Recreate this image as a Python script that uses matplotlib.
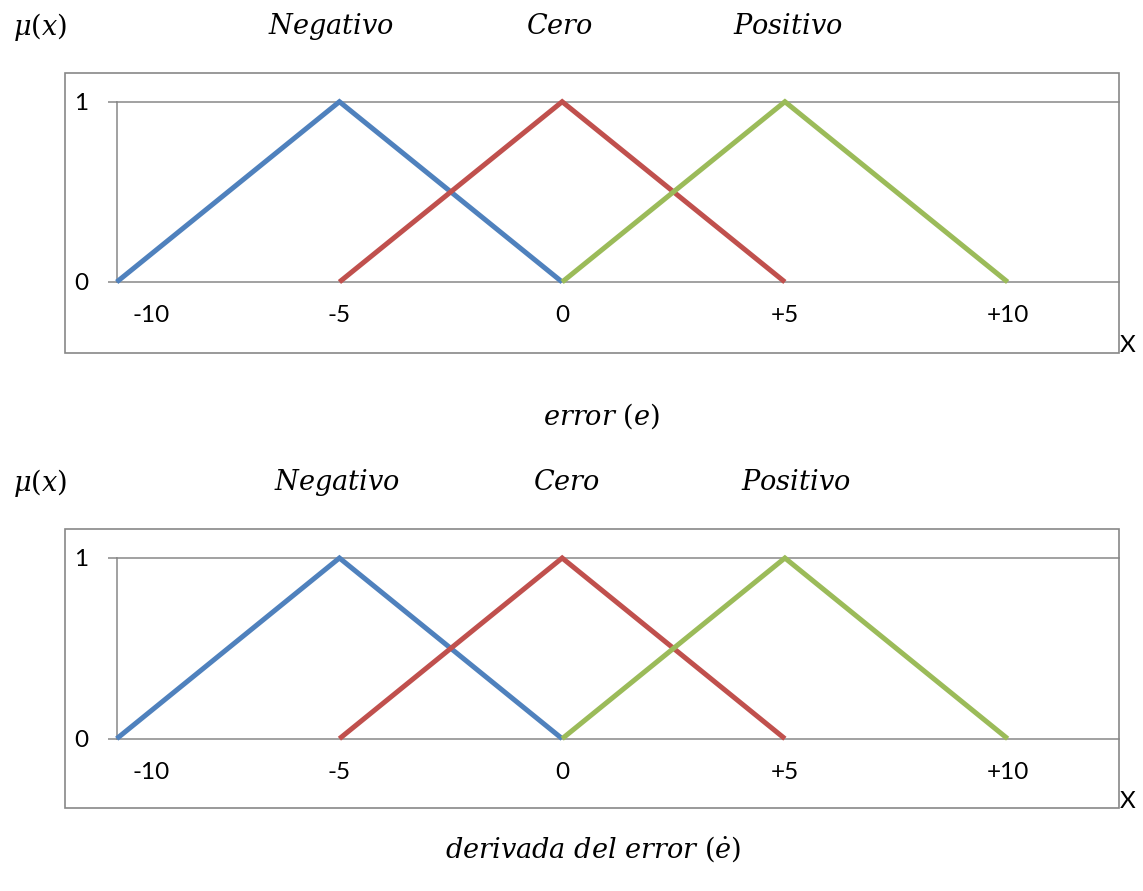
import matplotlib
matplotlib.use("Agg")
import matplotlib.pyplot as plt
from matplotlib.patches import Rectangle

plt.rcParams["mathtext.fontset"] = "dejavuserif"

# Membership functions (triangular) shared by both variables
x_negativo = [-10, -5, 0]
mu_negativo = [0, 1, 0]
x_cero = [-5, 0, 5]
mu_cero = [0, 1, 0]
x_positivo = [0, 5, 10]
mu_positivo = [0, 1, 0]

set_names = [r"$Negativo$", r"$Cero$", r"$Positivo$"]
xtick_values = [-10, -5, 0, 5, 10]
xtick_labels = ["-10", "-5", "0", "+5", "+10"]
ytick_values = [0, 1]
ytick_labels = ["0", "1"]
variable_names = [r"$error\ (e)$", r"$derivada\ del\ error\ (\dot{e})$"]

colors = ["#4F81BD", "#C0504D", "#9BBB59"]
gray = "#878787"

W, H = 1143, 891
fig = plt.figure(figsize=(W / 100, H / 100), dpi=100)


def fx(px):
    return px / W


def fy(py):
    return 1 - py / H


panels = [
    dict(frame=(65, 73, 1119, 353), plot=(116.7, 101.7, 1119, 282),
         header_y=27, names_x=[331, 559, 788], var_xy=(601, 416), xlab=(1128, 345)),
    dict(frame=(65, 529, 1119, 808), plot=(116.7, 558, 1119, 738.7),
         header_y=483, names_x=[337, 566, 796], var_xy=(593, 849), xlab=(1128, 801)),
]

series = [(x_negativo, mu_negativo), (x_cero, mu_cero), (x_positivo, mu_positivo)]
label_font = dict(fontsize=17.5, fontfamily="Lato")
math_size = 19.5

for i, p in enumerate(panels):
    # outer chart frame
    x0, y0, x1, y1 = p["frame"]
    fig.patches.append(Rectangle((fx(x0), fy(y1)), fx(x1) - fx(x0), fy(y0) - fy(y1),
                                 transform=fig.transFigure, fill=False,
                                 edgecolor=gray, linewidth=1.2, zorder=0))
    l, t, r, b = p["plot"]
    ax = fig.add_axes([fx(l), fy(b), fx(r) - fx(l), fy(t) - fy(b)])
    ax.set_facecolor("none")
    # horizontal gridlines at the category levels
    for yv in ytick_values:
        ax.axhline(yv, color=gray, linewidth=1.1, clip_on=False, zorder=1)
    for (xs, ys), c in zip(series, colors):
        ax.plot(xs, ys, color=c, linewidth=3.6, solid_capstyle="butt",
                solid_joinstyle="miter", clip_on=False, zorder=3)
    ax.set_xlim(-10, 12.5)
    ax.set_ylim(0, 1)
    for s in ["top", "right", "bottom"]:
        ax.spines[s].set_visible(False)
    ax.spines["left"].set_color(gray)
    ax.spines["left"].set_linewidth(1.1)
    ax.set_yticks(ytick_values)
    ax.set_yticklabels(ytick_labels, **label_font)
    ax.tick_params(axis="y", length=6.5, color=gray, width=1.1, pad=14)
    ax.set_xticks([])
    for k, (v, lab) in enumerate(zip(xtick_values, xtick_labels)):
        dx = 25 if k == 0 else 0
        ax.annotate(lab, xy=(v, 0), xycoords=("data", "axes fraction"),
                    xytext=(dx, -24), textcoords="offset points",
                    ha="center", va="center", **label_font)

    fig.text(fx(40), fy(p["header_y"]), r"$\mu(x)$", fontsize=math_size,
             ha="center", va="center")
    for name, nx in zip(set_names, p["names_x"]):
        fig.text(fx(nx), fy(p["header_y"]), name, fontsize=math_size,
                 ha="center", va="center")
    vx, vy = p["var_xy"]
    fig.text(fx(vx), fy(vy), variable_names[i], fontsize=math_size,
             ha="center", va="center")
    lx, ly = p["xlab"]
    fig.text(fx(lx), fy(ly), "X", ha="center", va="center", **label_font)

fig.savefig("out.png", dpi=100, facecolor="white")
